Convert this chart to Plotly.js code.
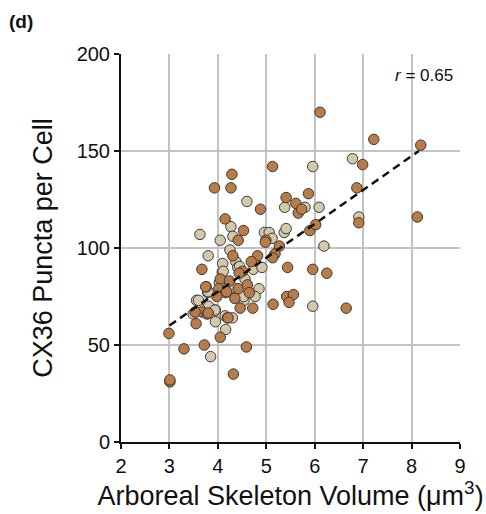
<!DOCTYPE html>
<html>
<head>
<meta charset="utf-8">
<script src="https://cdn.plot.ly/plotly-3.0.1.min.js"></script>
<style>html,body{margin:0;padding:0;background:#fff;}#chart{width:486px;height:514px;}</style>
</head>
<body>
<div id="chart"></div>
<script>
// Brown group (volume µm^3, puncta per cell)
const brownX = [6.11,7.22,8.19,6.99,5.13,4.29,3.93,4.27,6.87,5.41,5.87,4.88,5.61,5.66,5.73,4.15,8.12,6.91,4.53,4.42,4.99,5.90,6.02,5.27,5.18,5.13,4.82,4.69,4.31,3.67,5.44,5.96,6.25,4.51,4.05,4.24,3.76,4.02,4.16,4.42,4.61,4.65,3.98,4.35,5.42,5.56,5.47,5.14,4.46,4.72,6.65,3.67,3.78,4.20,3.55,4.05,2.99,3.30,3.72,4.59,4.32,3.01,3.01,4.44,3.75,4.18,3.53,3.80,4.21,4.98];
const brownY = [170,156,153,143,142,138,131,131,131,126,128,120,123,118,120,115,116,113,109,104,104,109,112,101,97,95,96,93,96,89,90,89,87,88,84,83,80,79,77,79,81,77,75,74,75,76,72,71,69,69,69,67,66,64,61,54,56,48,50,49,35,31,32,87,80,77.5,67,66.5,64,103];
// Tan group
const tanX = [6.78,5.96,4.60,5.38,5.80,6.09,6.91,4.27,4.31,3.63,4.05,4.96,5.06,5.12,5.37,5.41,6.19,4.25,3.80,4.37,4.10,4.41,4.73,4.91,4.09,4.56,4.03,4.85,4.32,4.77,3.79,3.56,4.54,3.81,3.95,3.49,4.15,4.30,3.95,4.16,3.85,5.96,4.11,4.45,3.80,3.63,4.53,4.33,3.60,3.94];
const tanY = [146,142,124,121,121,121,116,111,106,107,104,108,108,105,108,110,101,99,96,93,92,90,89,90,87.5,84,82,79,78,75,77,73,73,70,68,66,65,64,62,58,44,70,88,90.5,77.5,68.5,75,79.5,73,68];
// Regression fit
const fitX = [3.0, 8.15];
const fitY = [60, 150];
const xTicks = [2,3,4,5,6,7,8,9];
const yTicks = [0,50,100,150,200];

const mk = (c) => ({size: 10.5, color: c, line: {color: '#3a3a3a', width: 1}});
const data = [
  {x: tanX, y: tanY, type: 'scatter', mode: 'markers', marker: mk('#d5c8aa'), hoverinfo: 'skip'},
  {x: brownX, y: brownY, type: 'scatter', mode: 'markers', marker: mk('#b97c48'), hoverinfo: 'skip'},
  {x: fitX, y: fitY, type: 'scatter', mode: 'lines', line: {color: '#111', width: 2.5, dash: '8px,5px'}, hoverinfo: 'skip'}
];
const fontF = 'Liberation Sans, Arial, sans-serif';
const layout = {
  width: 486, height: 514,
  margin: {l: 121, r: 26, t: 54, b: 72},
  paper_bgcolor: '#fff', plot_bgcolor: '#fff',
  showlegend: false,
  font: {family: fontF, color: '#111'},
  xaxis: {
    range: [2, 9], tickvals: xTicks, ticktext: xTicks.map(String),
    showgrid: true, gridcolor: '#c3c3c3', gridwidth: 2,
    showline: true, linecolor: '#111', linewidth: 2,
    ticks: 'outside', ticklen: 5, tickwidth: 2, tickcolor: '#111',
    tickfont: {size: 20, family: fontF, color: '#111'},
    zeroline: false,
    title: {text: 'Arboreal Skeleton Volume (μm<sup>3</sup>)', font: {size: 27, family: fontF, color: '#111'}, standoff: 0}
  },
  yaxis: {
    range: [0, 200], tickvals: yTicks, ticktext: yTicks.map(String),
    showgrid: true, gridcolor: '#c3c3c3', gridwidth: 2,
    showline: true, linecolor: '#111', linewidth: 2,
    ticks: 'outside', ticklen: 5, tickwidth: 2, tickcolor: '#111',
    tickfont: {size: 20, family: fontF, color: '#111'},
    zeroline: false,
    title: {text: 'CX36 Puncta per Cell', font: {size: 27, family: fontF, color: '#111'}, standoff: 16}
  },
  annotations: [
    {text: '<b>(d)</b>', xref: 'paper', yref: 'paper', x: -0.335, y: 1.085, xanchor: 'left', yanchor: 'middle', showarrow: false, font: {size: 19, family: fontF, color: '#111'}},
    {text: '<i>r</i> = 0.65', xref: 'paper', yref: 'paper', x: 0.985, y: 0.945, xanchor: 'right', yanchor: 'middle', showarrow: false, font: {size: 17, family: fontF, color: '#111'}}
  ]
};
Plotly.newPlot('chart', data, layout, {displayModeBar: false, staticPlot: true});
</script>
</body>
</html>
